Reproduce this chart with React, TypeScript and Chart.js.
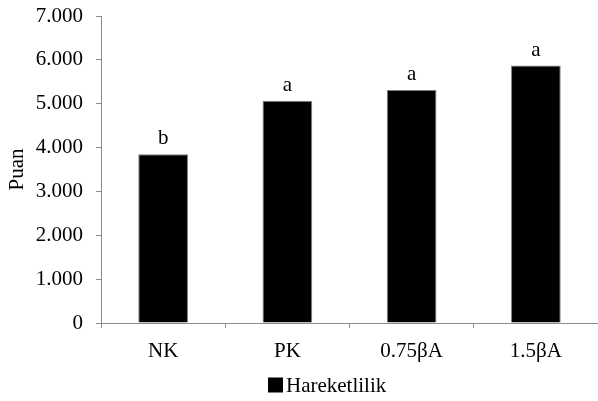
import React, { useEffect, useRef } from "react";
import { Chart, registerables } from "chart.js";

Chart.register(...registerables);

const categories = ["NK", "PK", "0.75βA", "1.5βA"];
const values = [3850, 5070, 5310, 5870];
const letters = ["b", "a", "a", "a"];
const seriesName = "Hareketlilik";
const yTitle = "Puan";
const yMin = 0;
const yMax = 7000;
const yStep = 1000;

const FONT = '"Liberation Serif", "Times New Roman", serif';
const AXIS = "#8c8c8c";
const FS = 21;

function fmt(v: number): string {
  return String(Math.round(v)).replace(/\B(?=(\d{3})+(?!\d))/g, ".");
}

const lettersPlugin = {
  id: "letters",
  afterDatasetsDraw(chart: any) {
    const ctx = chart.ctx;
    const meta = chart.getDatasetMeta(0);
    ctx.save();
    ctx.fillStyle = "#000";
    ctx.font = `${FS}px ${FONT}`;
    ctx.textAlign = "center";
    ctx.textBaseline = "alphabetic";
    meta.data.forEach((el: any, i: number) => {
      ctx.fillText(letters[i], el.x, el.y - 10);
    });
    ctx.restore();
  },
};

const legendPlugin = {
  id: "customLegend",
  afterDraw(chart: any) {
    const ctx = chart.ctx;
    const area = chart.chartArea;
    ctx.save();
    ctx.font = `${FS}px ${FONT}`;
    const tw = ctx.measureText(seriesName).width;
    const box = 15;
    const gap = 3;
    const total = box + gap + tw;
    const cx = area.left + (area.right - area.left) * 0.455;
    const x0 = cx - total / 2;
    const cy = chart.height - 16;
    ctx.fillStyle = "#000";
    ctx.fillRect(x0, cy - box / 2, box, box);
    ctx.textBaseline = "middle";
    ctx.textAlign = "left";
    ctx.fillText(seriesName, x0 + box + gap, cy + 1);
    ctx.restore();
  },
};

export default function App() {
  const ref = useRef<HTMLCanvasElement | null>(null);
  useEffect(() => {
    if (!ref.current) return;
    const chart = new Chart(ref.current, {
      type: "bar",
      data: {
        labels: categories,
        datasets: [
          {
            label: seriesName,
            data: values,
            backgroundColor: "#000000",
            borderColor: "#7f7f7f",
            borderWidth: 1,
            barPercentage: 0.4,
            categoryPercentage: 1,
          },
        ],
      },
      options: {
        animation: false,
        responsive: false,
        maintainAspectRatio: false,
        layout: { padding: { top: 16, right: 0, left: 0, bottom: 0 } },
        plugins: {
          legend: { display: false },
          tooltip: { enabled: false },
        },
        scales: {
          x: {
            afterFit: (s: any) => {
              s.height = 78;
              s.paddingLeft = 0;
              s.paddingRight = 0;
            },
            grid: {
              offset: true,
              drawOnChartArea: false,
              drawTicks: true,
              tickLength: 5,
              color: AXIS,
            },
            border: { color: AXIS, width: 1 },
            ticks: {
              color: "#000",
              padding: 11,
              font: { family: FONT, size: FS },
            },
          },
          y: {
            min: yMin,
            max: yMax,
            afterFit: (s: any) => {
              s.width = 101;
              s.paddingTop = 0;
              s.paddingBottom = 0;
            },
            grid: {
              drawOnChartArea: false,
              drawTicks: true,
              tickLength: 5,
              color: AXIS,
            },
            border: { color: AXIS, width: 1 },
            ticks: {
              stepSize: yStep,
              color: "#000",
              padding: 13,
              font: { family: FONT, size: FS },
              callback: (v: any) => fmt(Number(v)),
            },
            title: {
              display: true,
              text: yTitle,
              color: "#000",
              font: { family: FONT, size: FS },
              padding: { top: 5, bottom: 0 },
            },
          },
        },
      },
      plugins: [lettersPlugin, legendPlugin],
    });
    return () => chart.destroy();
  }, []);
  return (
    <div style={{ position: "fixed", left: 0, top: 0, width: 598, height: 401, background: "#fff" }}>
      <canvas ref={ref} width={598} height={401} style={{ width: 598, height: 401 }} />
    </div>
  );
}
